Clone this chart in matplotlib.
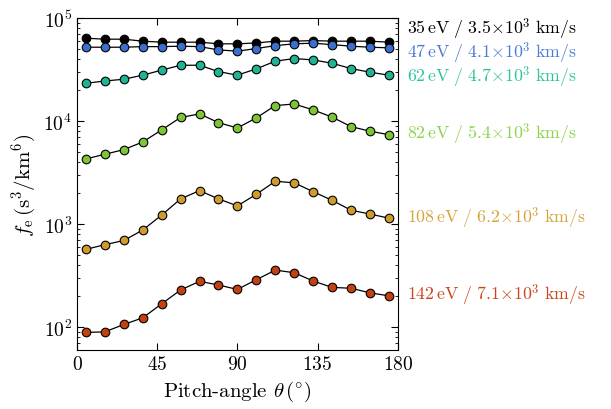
import matplotlib
matplotlib.use('Agg')
import matplotlib.pyplot as plt
import numpy as np

plt.rcParams['font.family'] = 'cmr10'
plt.rcParams['mathtext.fontset'] = 'cm'
plt.rcParams['axes.formatter.use_mathtext'] = True

# pitch-angle bins (deg)
theta = [5.0, 15.6, 26.3, 36.9, 47.5, 58.1, 68.8, 79.4, 90.0,
         100.6, 111.3, 121.9, 132.5, 143.1, 153.8, 164.4, 175.0]

# phase-space density per energy channel (s^3/km^6)
f_35 = [63500, 62100, 62100, 59400, 58100, 58100, 58100, 56000, 56000,
        57100, 59400, 59400, 60200, 59400, 59400, 59400, 58100]
f_47 = [51900, 51900, 51900, 52600, 52600, 53100, 52600, 48900, 47500,
        50400, 53800, 56000, 56800, 55000, 53100, 51900, 51200]
f_62 = [23200, 24400, 25400, 27800, 31100, 34700, 34700, 30100, 27800,
        32000, 38000, 40300, 39100, 36300, 32200, 29700, 27800]
f_82 = [4280, 4750, 5270, 6250, 8180, 10800, 11700, 9620, 8550,
        10700, 14100, 14600, 12800, 10900, 8810, 7950, 7360]
f_108 = [568, 630, 692, 875, 1220, 1750, 2110, 1750, 1500,
         1940, 2600, 2510, 2060, 1700, 1360, 1250, 1140]
f_142 = [88.8, 89.9, 106, 123, 168, 229, 278, 256, 232,
         288, 357, 337, 280, 243, 238, 215, 201]

series = [f_35, f_47, f_62, f_82, f_108, f_142]
labels = [r'$\mathrm{35\,eV\ /\ 3.5{\times}10^3\ km/s}$',
          r'$\mathrm{47\,eV\ /\ 4.1{\times}10^3\ km/s}$',
          r'$\mathrm{62\,eV\ /\ 4.7{\times}10^3\ km/s}$',
          r'$\mathrm{82\,eV\ /\ 5.4{\times}10^3\ km/s}$',
          r'$\mathrm{108\,eV\ /\ 6.2{\times}10^3\ km/s}$',
          r'$\mathrm{142\,eV\ /\ 7.1{\times}10^3\ km/s}$']
colors = ['#000000', '#3b6fd0', '#1fb594', '#7cc635', '#cf9b2e', '#c2410f']
text_colors = ['#000000', '#4a7bd6', '#2dc49d', '#8bd34a', '#d6a43c', '#c9461a']
# vertical placement of the right-hand labels (data units)
label_y = [80000, 46500, 27000, 7640, 1170, 209]

fig = plt.figure(figsize=(6.11, 4.10), dpi=100)
ax = fig.add_axes([0.126, 0.144, 0.525, 0.810])

for f, c in zip(series, colors):
    ax.plot(theta, f, '-', color='k', lw=0.9, marker='o', ms=6.2,
            mfc=c, mec='k', mew=0.8)

for lab, yl, c in zip(labels, label_y, text_colors):
    ax.text(1.03, yl, lab, color=c, fontsize=12.8, va='center', ha='left',
            transform=ax.get_yaxis_transform())

ax.set_yscale('log')
ax.set_xlim(0, 180)
ax.set_ylim(60, 1e5)
ax.set_xticks([0, 45, 90, 135, 180])
ax.tick_params(which='both', direction='in', top=True, right=True, labelsize=14)
ax.tick_params(which='major', length=5)
ax.tick_params(which='minor', length=2.5)
ax.set_xlabel(r'Pitch-angle $\theta\,(^{\circ})$', fontsize=15)
ax.set_ylabel(r'$f_{\mathrm{e}}\,(\mathrm{s^3/km^6})$', fontsize=15)

fig.savefig('out.png', dpi=100)
